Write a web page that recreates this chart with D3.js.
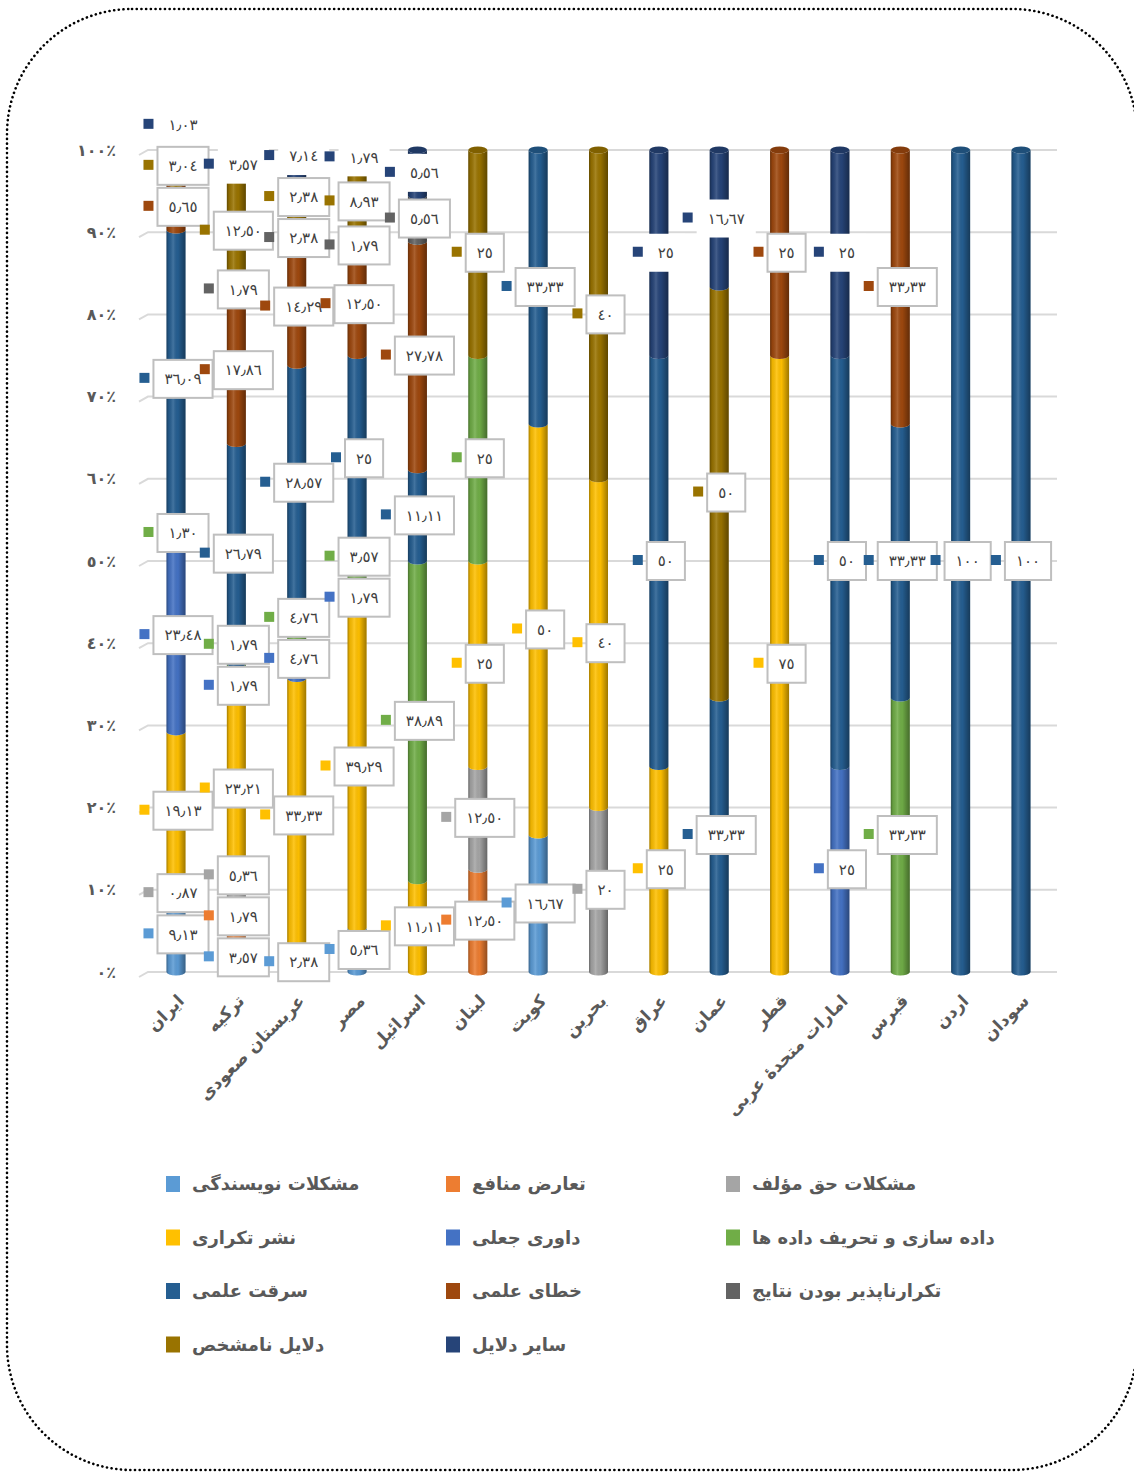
<!DOCTYPE html>
<html>
<head>
<meta charset="utf-8">
<script src="https://cdn.jsdelivr.net/npm/d3@7"></script>
<style>
  body { margin: 0; background: #fff; }
  svg { display: block; font-family: 'DejaVu Sans', sans-serif; }
</style>
</head>
<body>
<div id="main"></div>
<script>
const countries = ['ایران', 'ترکیه', 'عربستان صعودی', 'مصر', 'اسرائیل', 'لبنان', 'کویت', 'بحرین',
  'عراق', 'عمان', 'قطر', 'امارات متحدۀ عربی', 'قبرس', 'اردن', 'سودان'];

const seriesNames = ['مشکلات نویسندگی', 'تعارض منافع', 'مشکلات حق مؤلف', 'نشر تکراری', 'داوری جعلی',
  'داده سازی و تحریف داده ها', 'سرقت علمی', 'خطای علمی', 'تکرارناپذیر بودن نتایج', 'دلایل نامشخص', 'سایر دلایل'];

// values per series, in the order of countries
const authorship     = [9.13, 3.57, 2.38, 5.36, 0, 0, 16.67, 0, 0, 0, 0, 0, 0, 0, 0];
const conflict       = [0, 1.79, 0, 0, 0, 12.50, 0, 0, 0, 0, 0, 0, 0, 0, 0];
const copyright      = [0.87, 5.36, 0, 0, 0, 12.50, 0, 20, 0, 0, 0, 0, 0, 0, 0];
const duplicate      = [19.13, 23.21, 33.33, 39.29, 11.11, 25, 50, 40, 25, 0, 75, 0, 0, 0, 0];
const fakeReview     = [23.48, 1.79, 4.76, 1.79, 0, 0, 0, 0, 0, 0, 0, 25, 0, 0, 0];
const fabrication    = [1.30, 1.79, 4.76, 3.57, 38.89, 25, 0, 0, 0, 0, 0, 0, 33.33, 0, 0];
const plagiarism     = [36.09, 26.79, 28.57, 25, 11.11, 0, 33.33, 0, 50, 33.33, 0, 50, 33.33, 100, 100];
const sciError       = [5.65, 17.86, 14.29, 12.50, 27.78, 0, 0, 0, 0, 0, 25, 0, 33.33, 0, 0];
const irreproducible = [0, 1.79, 2.38, 1.79, 5.56, 0, 0, 0, 0, 0, 0, 0, 0, 0, 0];
const unknown        = [3.04, 12.50, 2.38, 8.93, 0, 25, 0, 40, 0, 50, 0, 0, 0, 0, 0];
const other          = [1.03, 3.57, 7.14, 1.79, 5.56, 0, 0, 0, 25, 16.67, 0, 25, 0, 0, 0];

const yTicks = [0, 10, 20, 30, 40, 50, 60, 70, 80, 90, 100];

const seriesValues = [authorship, conflict, copyright, duplicate, fakeReview, fabrication,
  plagiarism, sciError, irreproducible, unknown, other];

const colors = ['#5B9BD5', '#ED7D31', '#A5A5A5', '#FFC000', '#4472C4', '#70AD47',
  '#255E91', '#9E480E', '#636363', '#997300', '#264478'];

// persian / arabic-indic digits
const toFa = s => String(s).replace(/[0-9]/g, d => '٠١٢٣٤٥٦٧٨٩'[d]).replace('.', '٫');
const fmt = v => toFa(Number.isInteger(v) ? v : v.toFixed(2));

class StackedCylinders {
  constructor(config) {
    this.config = config;
    this.svg = null;
    this.xScale = null;
    this.yScale = null;
    this.stacked = null;
    this.createSvg();
  }

  createSvg() {
    this.svg = d3.select(this.config.div)
      .append('svg')
      .attr('width', this.config.width)
      .attr('height', this.config.height);

    // dotted rounded frame
    this.svg.append('rect')
      .attr('x', 7).attr('y', 9)
      .attr('width', 1130).attr('height', 1461)
      .attr('rx', 125).attr('ry', 125)
      .attr('fill', 'none')
      .attr('stroke', '#000')
      .attr('stroke-width', 2.6)
      .attr('stroke-linecap', 'round')
      .attr('stroke-dasharray', '0.1 4.6');

    const grad = this.svg.append('defs').append('linearGradient')
      .attr('id', 'shade').attr('x1', 0).attr('x2', 1).attr('y1', 0).attr('y2', 0);
    [[0, '#000', 0.35], [0.12, '#000', 0.08], [0.35, '#fff', 0.14], [0.6, '#000', 0.02], [1, '#000', 0.38]]
      .forEach(([o, c, a]) => grad.append('stop').attr('offset', o).attr('stop-color', c).attr('stop-opacity', a));
  }

  createData() {
    const rows = countries.map((c, i) => {
      const r = { country: c };
      seriesNames.forEach((s, j) => r[s] = seriesValues[j][i]);
      return r;
    });
    this.rows = rows;
    this.stacked = d3.stack().keys(seriesNames).offset(d3.stackOffsetExpand)(rows);
  }

  createScales() {
    const c = this.config;
    this.xScale = d3.scalePoint().domain(countries).range([c.left, c.right]);
    this.yScale = d3.scaleLinear().domain([0, 1]).range([c.bottom, c.top]);
  }

  createGrid() {
    const c = this.config;
    const y = d3.scaleLinear().domain([0, 100]).range([c.bottom, c.top]);
    const g = this.svg.append('g');
    g.selectAll('path').data(yTicks).join('path')
      .attr('d', t => `M${c.gridLeft - 9},${y(t) + 5} L${c.gridLeft},${y(t)} L${c.gridRight},${y(t)}`)
      .attr('fill', 'none')
      .attr('stroke', '#D9D9D9')
      .attr('stroke-width', 2);
    g.selectAll('text').data(yTicks).join('text')
      .attr('x', c.gridLeft - 32)
      .attr('y', t => y(t))
      .attr('dy', '0.35em')
      .attr('text-anchor', 'end')
      .attr('font-size', 16)
      .attr('font-weight', 'bold')
      .attr('fill', '#595959')
      .text(t => toFa(t) + '٪');
  }

  renderBars() {
    const w = this.config.barWidth, ry = 3.5, r = w / 2;
    const seg = (x, y0, y1) =>
      `M${x},${y1} A${r},${ry} 0 0 0 ${x + w},${y1} L${x + w},${y0} A${r},${ry} 0 0 1 ${x},${y0} Z`;

    const g = this.svg.append('g');
    this.stacked.forEach((layer, j) => {
      layer.forEach(d => {
        if (d[1] - d[0] <= 0) return;
        const x = this.xScale(d.data.country) - r;
        const p = seg(x, this.yScale(d[0]), this.yScale(d[1]));
        g.append('path').attr('d', p).attr('fill', colors[j]);
        g.append('path').attr('d', p).attr('fill', 'url(#shade)');
      });
    });

    // top caps
    countries.forEach(c => {
      let top = 0;
      this.stacked.forEach((layer, j) => {
        const d = layer.find(e => e.data.country === c);
        if (d[1] - d[0] > 0) top = j;
      });
      g.append('ellipse')
        .attr('cx', this.xScale(c))
        .attr('cy', this.yScale(1))
        .attr('rx', r).attr('ry', ry)
        .attr('fill', d3.color(colors[top]).darker(0.5));
    });
  }

  renderLabels() {
    const boxH = 38, gap = 3;
    const g = this.svg.append('g').attr('font-size', 15).attr('fill', '#404040');

    countries.forEach((c, i) => {
      const items = [];
      this.stacked.forEach((layer, j) => {
        const d = layer[i];
        if (d[1] - d[0] <= 0) return;
        items.push({ j, value: seriesValues[j][i], y: this.yScale((d[0] + d[1]) / 2) });
      });
      // push labels upward so they do not overlap inside a column
      for (let k = 1; k < items.length; k++) {
        items[k].y = Math.min(items[k].y, items[k - 1].y - boxH - gap);
      }
      const cx = this.xScale(c);
      items.forEach(it => {
        const lg = g.append('g');
        const rect = lg.append('rect');
        const key = lg.append('rect');
        const txt = lg.append('text').attr('text-anchor', 'middle').attr('dy', '0.35em').text(fmt(it.value));
        const tw = txt.node().getComputedTextLength();
        const bw = tw + 22;
        const left = cx - (bw + 14) / 2;
        key.attr('x', left).attr('y', it.y - 6).attr('width', 10).attr('height', 10).attr('fill', colors[it.j]);
        rect.attr('x', left + 14).attr('y', it.y - boxH / 2).attr('width', bw).attr('height', boxH)
          .attr('fill', '#fff')
          .attr('stroke', it.j === seriesNames.length - 1 ? 'none' : '#BFBFBF')
          .attr('stroke-width', 2);
        txt.attr('x', left + 14 + bw / 2).attr('y', it.y);
      });
    });
  }

  renderAxis() {
    this.svg.append('g').selectAll('text').data(countries).join('text')
      .attr('transform', d => `translate(${this.xScale(d) + 9},${this.config.bottom + 30}) rotate(-45)`)
      .attr('text-anchor', 'end')
      .attr('font-size', 17)
      .attr('font-weight', 'bold')
      .attr('fill', '#595959')
      .text(d => d);
  }

  renderLegend() {
    const c = this.config;
    const g = this.svg.append('g');
    seriesNames.forEach((s, i) => {
      const x = c.legendX + (i % 3) * c.legendCol;
      const y = c.legendY + Math.floor(i / 3) * c.legendRow;
      g.append('rect').attr('x', x).attr('y', y - 8).attr('width', 14).attr('height', 16).attr('fill', colors[i]);
      g.append('text').attr('x', x + 26).attr('y', y).attr('dy', '0.35em')
        .attr('font-size', 18).attr('font-weight', 'bold').attr('fill', '#595959')
        .text(s);
    });
  }
}

function main() {
  const c = {
    div: '#main', width: 1134, height: 1477,
    left: 176, right: 1021, top: 150, bottom: 972,
    gridLeft: 148, gridRight: 1057, barWidth: 19,
    legendX: 166, legendY: 1184, legendCol: 280, legendRow: 53.5
  };
  const app = new StackedCylinders(c);
  app.createData();
  app.createScales();
  app.createGrid();
  app.renderBars();
  app.renderLabels();
  app.renderAxis();
  app.renderLegend();
}

main();
</script>
</body>
</html>
